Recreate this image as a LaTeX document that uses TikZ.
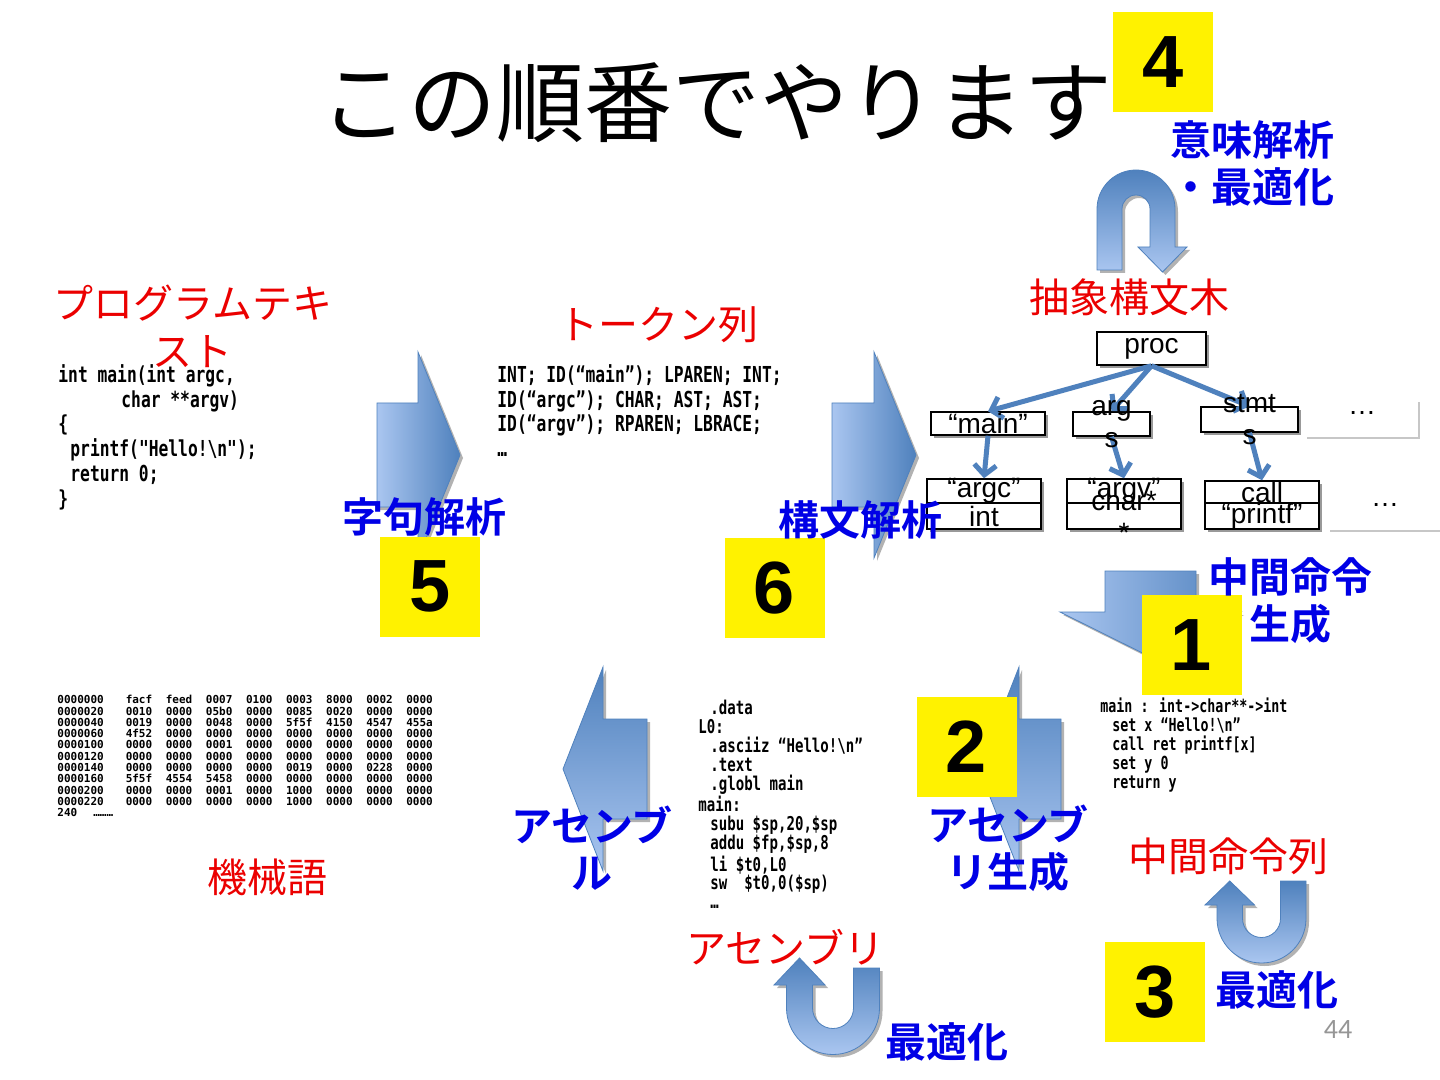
\documentclass[tikz,border=0pt]{standalone}
\usepackage{fontspec}
\setmainfont{Liberation Sans}
\newfontfamily\jp[BoldFont={Noto Sans CJK JP Bold}]{Noto Sans CJK JP}
\newfontfamily\codefont[FakeStretch=0.74]{DejaVu Sans Mono}
\newfontfamily\hexfont{DejaVu Sans Mono}
\newfontfamily\pgfont{Carlito}
\usetikzlibrary{arrows.meta,shadows}
\definecolor{arrdark}{RGB}{79,129,189}
\definecolor{arrlight}{RGB}{170,198,240}
\definecolor{lblblue}{RGB}{0,0,230}
\definecolor{lblred}{RGB}{235,0,0}
\definecolor{pggray}{RGB}{150,150,150}

\newcommand\arrRa{(377,403) -- (418,403) -- (418,352) -- (460,455) -- (418,558) -- (418,507) -- (377,507) -- cycle}
\newcommand\arrRb{(832,403) -- (874,403) -- (874,352) -- (916,455) -- (874,558) -- (874,507) -- (832,507) -- cycle}
\newcommand\arrLa{(647,719) -- (603,719) -- (603,667) -- (563,769) -- (603,871) -- (603,819) -- (647,819) -- cycle}
\newcommand\arrLb{(1061,719) -- (1019,719) -- (1019,667) -- (979,769) -- (1019,871) -- (1019,819) -- (1061,819) -- cycle}
\newcommand\arrDn{(1105,571) -- (1196,571) -- (1196,612) -- (1241,612) -- (1150.5,657) -- (1060,612) -- (1105,612) -- cycle}
\newcommand\uTop{(1097,270) -- (1097,209) arc[start angle=180,end angle=360,radius=39] -- (1175,247) -- (1187,247) -- (1162.5,272) -- (1138,247) -- (1150,247) -- (1150,209) arc[start angle=0,end angle=-180,radius=14] -- (1122,270) -- cycle}
\newcommand\uMid{(879.5,968) -- (879.5,1008) arc[start angle=0,end angle=180,radius=46.5] -- (786.5,985) -- (774,985) -- (799.5,958) -- (825,985) -- (812.5,985) -- (812.5,1008) arc[start angle=180,end angle=0,radius=20.5] -- (853.5,968) -- cycle}
\newcommand\uRgt{(1306,881) -- (1306,918.5) arc[start angle=0,end angle=180,radius=44.5] -- (1217,905) -- (1205,905) -- (1229.75,881) -- (1254.5,905) -- (1242.5,905) -- (1242.5,918.5) arc[start angle=180,end angle=0,radius=19] -- (1280.5,881) -- cycle}

\newcommand\hexrow[9]{#1\hspace{11pt}#2\hspace{6.8pt}#3\hspace{6.8pt}#4\hspace{6.8pt}#5\hspace{6.8pt}#6\hspace{6.8pt}#7\hspace{6.8pt}#8\hspace{6.8pt}#9}

\begin{document}
\begin{tikzpicture}[x=0.5pt,y=-0.5pt,
  bshadow/.style={fill=black!30, shift={(3,3)}},
  hshade/.style={left color=arrlight, right color=arrdark, draw=arrdark, line width=0.4pt},
  vshade/.style={top color=arrdark, bottom color=arrlight, draw=arrdark, line width=0.4pt},
  redlab/.style={font=\jp\fontsize{20}{24}\selectfont, text=lblred, inner sep=0pt, align=center},
  bluelab/.style={font=\jp\bfseries\fontsize{20.5}{23.5}\selectfont, text=lblblue, inner sep=0pt, align=center},
  numbox/.style={fill=yellow, minimum width=50pt, minimum height=50pt, inner sep=0pt, font=\bfseries\fontsize{37}{40}\selectfont},
  codetxt/.style={font=\codefont\bfseries\fontsize{11}{12.4}\selectfont, align=left, inner sep=0pt, anchor=north west},
  asmtxt/.style={font=\codefont\bfseries\fontsize{9.5}{9.45}\selectfont, align=left, inner sep=0pt, anchor=north west},
  irtxt/.style={font=\codefont\bfseries\fontsize{9}{9.5}\selectfont, align=left, inner sep=0pt, anchor=north west},
  hextxt/.style={font=\hexfont\bfseries\fontsize{5.5}{5.65}\selectfont, align=left, inner sep=0pt, anchor=north west},
  tbox/.style={draw=black, line width=0.75pt, fill=white, inner sep=0pt, drop shadow={shadow xshift=1.5pt,shadow yshift=-1.5pt,opacity=1,fill=black!40}},
  dotbox/.style={fill=white, inner sep=0pt, drop shadow={shadow xshift=1.2pt,shadow yshift=-1.2pt,opacity=1,fill=black!22}},
  ttxt/.style={font=\fontsize{14}{16}\selectfont, inner sep=0pt, align=center},
  tedge/.style={draw=arrdark, line width=2.5pt, -{Straight Barb[length=5pt,width=11pt]}}
]
\useasboundingbox (0,0) rectangle (1440,1080);
\fill[white] (0,0) rectangle (1440,1080);

% block arrows
\fill[bshadow] \arrRa;  \shadedraw[hshade] \arrRa;
\fill[bshadow] \arrRb;  \shadedraw[hshade] \arrRb;
\fill[bshadow] \arrLa;  \shadedraw[vshade] \arrLa;
\fill[bshadow] \arrLb;  \shadedraw[vshade] \arrLb;
\fill[bshadow] \arrDn;  \shadedraw[hshade] \arrDn;
\fill[bshadow] \uTop;   \shadedraw[vshade] \uTop;
\fill[bshadow] \uMid;   \shadedraw[vshade] \uMid;
\fill[bshadow] \uRgt;   \shadedraw[vshade] \uRgt;

% title
\node[font=\jp\fontsize{44}{50}\selectfont, inner sep=0pt] (title) at (716,103) {この順番でやります};

% code blocks
\node[codetxt] (src) at (58,364) {int main(int argc,\\\hspace*{31.5pt}char **argv)\\\{\\\hspace*{6pt}printf("Hello!\textbackslash n");\\\hspace*{6pt}return 0;\\\}};
\node[codetxt] (tok) at (497,364) {INT; ID(“main”); LPAREN; INT;\\ID(“argc”); CHAR; AST; AST;\\ID(“argv”); RPAREN; LBRACE;\\…};
\node[asmtxt] (asm) at (698,700) {\hspace*{6pt}.data\\L0:\\\hspace*{6pt}.asciiz “Hello!\textbackslash n”\\\hspace*{6pt}.text\\\hspace*{6pt}.globl main\\main:\\\hspace*{6pt}subu \$sp,20,\$sp\\\hspace*{6pt}addu \$fp,\$sp,8\\\hspace*{6pt}li \$t0,L0\\\hspace*{6pt}sw\ \ \$t0,0(\$sp)\\\hspace*{6pt}…};
\node[irtxt] (ir) at (1100,697) {main : int->char**->int\\\hspace*{6pt}set x “Hello!\textbackslash n”\\\hspace*{6pt}call ret printf[x]\\\hspace*{6pt}set y 0\\\hspace*{6pt}return y};
\node[hextxt] (hex) at (57,695) {%
\hexrow{0000000}{facf}{feed}{0007}{0100}{0003}{8000}{0002}{0000}\\
\hexrow{0000020}{0010}{0000}{05b0}{0000}{0085}{0020}{0000}{0000}\\
\hexrow{0000040}{0019}{0000}{0048}{0000}{5f5f}{4150}{4547}{455a}\\
\hexrow{0000060}{4f52}{0000}{0000}{0000}{0000}{0000}{0000}{0000}\\
\hexrow{0000100}{0000}{0000}{0001}{0000}{0000}{0000}{0000}{0000}\\
\hexrow{0000120}{0000}{0000}{0000}{0000}{0000}{0000}{0000}{0000}\\
\hexrow{0000140}{0000}{0000}{0000}{0000}{0019}{0000}{0228}{0000}\\
\hexrow{0000160}{5f5f}{4554}{5458}{0000}{0000}{0000}{0000}{0000}\\
\hexrow{0000200}{0000}{0000}{0001}{0000}{1000}{0000}{0000}{0000}\\
\hexrow{0000220}{0000}{0000}{0000}{0000}{1000}{0000}{0000}{0000}\\
240\hspace{8pt}………};

% abstract syntax tree
\node[tbox, minimum width=54.5pt, minimum height=16.5pt] (proc) at (1151.5,348.5) {};
\node[tbox, minimum width=57pt, minimum height=11.5pt] (mainB) at (988,423.5) {};
\node[tbox, minimum width=38.5pt, minimum height=12pt] (argsB) at (1111.5,424) {};
\node[tbox, minimum width=48.5pt, minimum height=12.5pt] (stmtsB) at (1249.5,419.5) {};
\node[dotbox, minimum width=56.5pt, minimum height=18.5pt] (dotsA) at (1361.5,418.5) {};
\node[tbox, minimum width=57pt, minimum height=12pt] (argcB) at (984,491) {};
\node[tbox, minimum width=57pt, minimum height=13pt] (intB) at (984,516) {};
\node[tbox, minimum width=57pt, minimum height=12pt] (argvB) at (1124,491) {};
\node[tbox, minimum width=57pt, minimum height=13pt] (charB) at (1124,516) {};
\node[tbox, minimum width=57pt, minimum height=11pt] (callB) at (1262,492) {};
\node[tbox, minimum width=57pt, minimum height=13pt] (printfB) at (1262,516) {};
\node[dotbox, minimum width=56pt, minimum height=21.5pt] (dotsB) at (1384,508.5) {};

\draw[tedge] (proc.south) -- (mainB.north);
\draw[tedge] (proc.south) -- (argsB.north);
\draw[tedge] (proc.south) -- (stmtsB.north);
\draw[tedge] (mainB.south) -- (argcB.north);
\draw[tedge] (argsB.south) -- (argvB.north);
\draw[tedge] (stmtsB.south) -- (callB.north);

\node[ttxt] (procT) at (proc) {proc};
\node[ttxt] (mainT) at (mainB) {“main”};
\node[ttxt] (argsT) at (argsB) {arg\\s};
\node[ttxt] (stmtsT) at (stmtsB) {stmt\\s};
\node[ttxt] (dotsAT) at (1362,413) {…};
\node[ttxt] (argcT) at (argcB) {“argc”};
\node[ttxt] (intT) at (intB) {int};
\node[ttxt] (argvT) at (argvB) {“argv”};
\node[ttxt] (charT) at (charB) {char*\\*};
\node[ttxt] (callT) at (callB) {call};
\node[ttxt] (printfT) at (printfB) {“printf”};
\node[ttxt] (dotsBT) at (1385,505) {…};

% red labels
\node[redlab] (lprog) at (193,326) {プログラムテキ\\スト};
\node[redlab] (ltok) at (658,325) {トークン列};
\node[redlab] (last) at (1129,297) {抽象構文木};
\node[redlab] (lir) at (1228,856) {中間命令列};
\node[redlab] (lasm) at (785,947) {アセンブリ};
\node[redlab] (lmach) at (267,877) {機械語};

% yellow number boxes
\node[numbox] (n4) at (1163,62) {4};
\node[numbox] (n5) at (430,586.5) {5};
\node[numbox] (n6) at (774.5,588) {6};
\node[numbox] (n1) at (1191.5,645) {1};
\node[numbox] (n2) at (966.5,747) {2};
\node[numbox] (n3) at (1155,992) {3};

% blue labels
\node[bluelab] (blex) at (424,517) {字句解析};
\node[bluelab] (bparse) at (860,520) {構文解析};
\node[bluelab] (bsem) at (1252,163) {意味解析\\・最適化};
\node[bluelab] (bgen) at (1290,601) {中間命令\\生成};
\node[bluelab] (basm) at (592,848) {アセンブ\\ル};
\node[bluelab] (basmgen) at (1008,848) {アセンブ\\リ生成};
\node[bluelab] (bopt1) at (1277,990) {最適化};
\node[bluelab] (bopt2) at (947,1042) {最適化};

% page number
\node[font=\pgfont\fontsize{14}{16}\selectfont, text=pggray, inner sep=0pt] (pnum) at (1338,1030) {44};
\end{tikzpicture}
\end{document}
